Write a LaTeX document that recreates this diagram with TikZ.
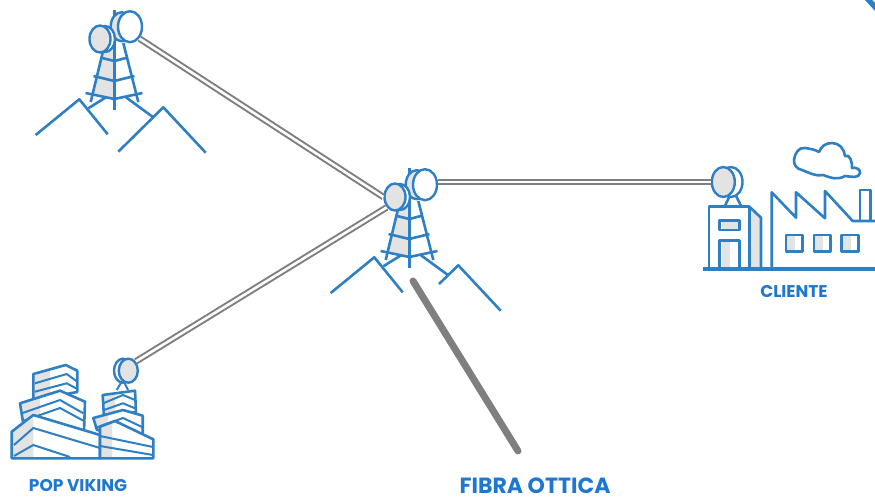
\documentclass[tikz,border=0pt]{standalone}
\usepackage{fontspec}
\setmainfont{Poppins}
\usetikzlibrary{shapes}% ellipses for the dishes
\definecolor{iconblue}{HTML}{2E7FC4}
\definecolor{textblue}{HTML}{1F77D0}
\definecolor{washgray}{HTML}{E3E3E3}
\definecolor{fibergray}{HTML}{7F7F7F}
\tikzset{every node/.style={font=\bfseries},
  icon/.style={draw=iconblue,line width=2.6pt,line join=round},
  thinicon/.style={draw=iconblue,line width=2pt,line join=round},
  dishgray/.style={ellipse,draw=iconblue,line width=2.4pt,fill=washgray,inner sep=0pt},
  dishwhite/.style={ellipse,draw=iconblue,line width=2.4pt,fill=white,inner sep=0pt},
  radiolink/.style={draw=fibergray,line width=2pt,double=white,double distance=2.6pt},
  sitelabel/.style={text=textblue,font=\bfseries\fontsize{17}{17}\selectfont}}
% #1 name, #2 shift, #3 start of the right ridge
\newcommand{\towerpic}[3]
{\begin{scope}[shift={(#2)}]
  \fill[washgray] (103,50) -- (114.3,50) -- (114.3,99) -- (93,93) -- cycle;
  \draw[icon] (114.3,10) -- (114.3,110);
  \draw[icon] (103.3,50) -- (90.7,102);
  \draw[icon] (123.3,43) -- (138.3,102);
  \foreach\yy/\yd in {58/61,76/81,93/99}
    \draw[icon] ({102-(\yy-58)*.47},\yy) -- (114.3,\yd) -- ({126+(\yy-58)*.47},\yy);
  \draw[icon] (35.7,135) -- (79.3,99.3) -- (107.7,134.3);
  \draw[icon] (#3) -- (163.3,107.3) -- (205.7,152.7);
  \draw[icon] (88.3,108.3) -- (106,97.3);
  \draw[icon] (126,97.3) -- (153.3,117.3);
  \node[dishgray,minimum width=22pt,minimum height=29pt] at (121.7,26.7) {};
  \node[dishwhite,minimum width=24pt,minimum height=31pt] (#1 big) at (130,26.7) {};
  \node[dishwhite,minimum width=20pt,minimum height=26pt] at (105,39) {};
  \node[dishgray,minimum width=21pt,minimum height=27pt] (#1 small) at (100,39) {};
\end{scope}}
% #1 outline, #2 left face, #3 stripes
\newcommand{\blockpic}[3]
{\fill[white] #1 -- cycle;
  \fill[washgray] #2 -- cycle;
  \foreach\stripe in {#3} \draw[thinicon] \stripe;
  \draw[icon] #1 -- cycle;}

\begin{document}
\begin{tikzpicture}[x=1pt,y=-1pt]
  \useasboundingbox (0,0) rectangle (875,497);
  \fill[iconblue] (865,0) -- (872,0) -- (875,3) -- (875,11) -- cycle;
  \towerpic{north}{0,0}{118.3,151.7}
  \towerpic{hub}{295,158}{144,126}
  % pop
  \blockpic{(33.3,374) -- (65.7,365) -- (77.3,370.7) -- (77.3,392) -- (33.3,400)}
    {(33.3,374) -- (50,369) -- (50,398) -- (33.3,400)}
    {{(35,383.3) -- (66.7,374) -- (77.3,381.7)},{(35,391.7) -- (66.7,383.3) -- (77.3,389)}}
  \blockpic{(20,403.3) -- (60,390.7) -- (85,401.7) -- (84,432) -- (23,422)}
    {(20,403.3) -- (40,397) -- (40,424) -- (23,422)}
    {{(21.7,413.3) -- (60,400) -- (83.3,413.3)},{(23,421) -- (60,408) -- (84,421)}}
  \blockpic{(11.7,431.7) -- (33.3,415) -- (100,435) -- (100,458.3) -- (11.7,458.3)}
    {(11.7,431.7) -- (33.3,415) -- (33.3,458.3) -- (11.7,458.3)}
    {{(14,445) -- (33.3,428) -- (100,448)},{(14,456) -- (33.3,445) -- (70,457)}}
  \blockpic{(102.7,395) -- (135,390.7) -- (136,412) -- (104,418)}
    {(102.7,395) -- (115,393) -- (115,416) -- (104,418)}
    {{(103.3,403.3) -- (123,395) -- (135,400)},{(104,410) -- (123,403.3) -- (135,408.3)}}
  \blockpic{(93.3,418) -- (123,410) -- (142.7,415.7) -- (142.7,437) -- (97,430)}
    {(93.3,418) -- (108,414) -- (108,432) -- (97,430)}
    {{(95,428) -- (123,418) -- (142,427)}}
  \blockpic{(100,426.7) -- (115,421) -- (153.3,439.3) -- (153.3,458.3) -- (100,458.3)}
    {(100,426.7) -- (112,423) -- (112,458.3) -- (100,458.3)}
    {{(100,436) -- (153,447)},{(100,446) -- (153,455)}}
  \draw[thinicon] (116.7,390) -- (121.7,381.7);
  \draw[thinicon] (128,390) -- (124,381.7);
  \node[dishwhite,minimum width=18pt,minimum height=24pt] at (123,370.7) {};
  \node[dishgray,minimum width=19pt,minimum height=24pt] (pop dish) at (128.3,370.7) {};
  % cliente
  \fill[washgray] (749.3,206.7) -- (761,217.7) -- (761,269) -- (749.3,269) -- cycle;
  \fill[washgray] (722,241) rectangle (730,269);
  \fill[washgray] (722,222) rectangle (738,229);
  \draw[icon] (709,269) -- (709,206.7) -- (749.3,206.7) -- (749.3,269);
  \draw[icon] (749.3,206.7) -- (761,217.7) -- (761,269);
  \draw[icon] (719.3,220.7) rectangle (739.3,230);
  \draw[icon] (719.3,269) -- (719.3,240.7) -- (739.3,240.7) -- (739.3,269);
  \draw[icon] (725,205.7) -- (731.7,191.7);
  \draw[icon] (741,205.7) -- (734,191.7);
  \node[dishwhite,minimum width=23pt,minimum height=30pt] at (731,182) {};
  \node[dishgray,minimum width=23pt,minimum height=30pt] (cliente dish) at (723.3,182) {};
  \draw[icon] (771.7,269) -- (771.7,192.3) -- (796,217.7) -- (796,192.3) -- (825,218.3) -- (825,191) -- (852.7,221) -- (875,221);
  \draw[icon] (860,221) -- (860,190) -- (870.7,190) -- (870.7,221);
  \foreach\xx in {786,814,841.7}
  {
    \fill[washgray] (\xx,235) rectangle ++(9,16.7);
    \draw[icon] (\xx,235) rectangle ++(16.7,16.7);
  }
  \draw[icon] (819,152) to[out=70,in=180] (832,143) to[out=0,in=95] (845,156)
    to[out=30,in=85] (852,168) to[out=20,in=80] (860,173) to[out=-100,in=-5] (845,176)
    to[out=-150,in=-20] (823,175) to[out=-170,in=-20] (802,170)
    to[out=170,in=-95] (794,160) to[out=85,in=170] (805,148) to[out=-10,in=150] cycle;
  \draw[line width=3.4pt,draw=iconblue] (703.3,269) -- (875,269);
  % links
  \draw[radiolink] (north big.south east) -- (hub small.west);
  \draw[radiolink] (pop dish.north east) -- (hub small.south west);
  \draw[radiolink] (cliente dish.west -| hub big.east) -- (cliente dish.west);
  \coordinate (fiber top) at (413,281);
  \coordinate (fiber end) at (518,451);
  \draw[line width=7pt,draw=fibergray,line cap=round] (fiber top) -- (fiber end);
  % labels
  \node[sitelabel] (pop label) at (78,486) {POP VIKING};
  \node[sitelabel] (cliente label) at (794,292) {CLIENTE};
  \node[sitelabel,font=\bfseries\fontsize{22}{22}\selectfont] (fiber label) at (535,486) {FIBRA OTTICA};
\end{tikzpicture}
\end{document}
